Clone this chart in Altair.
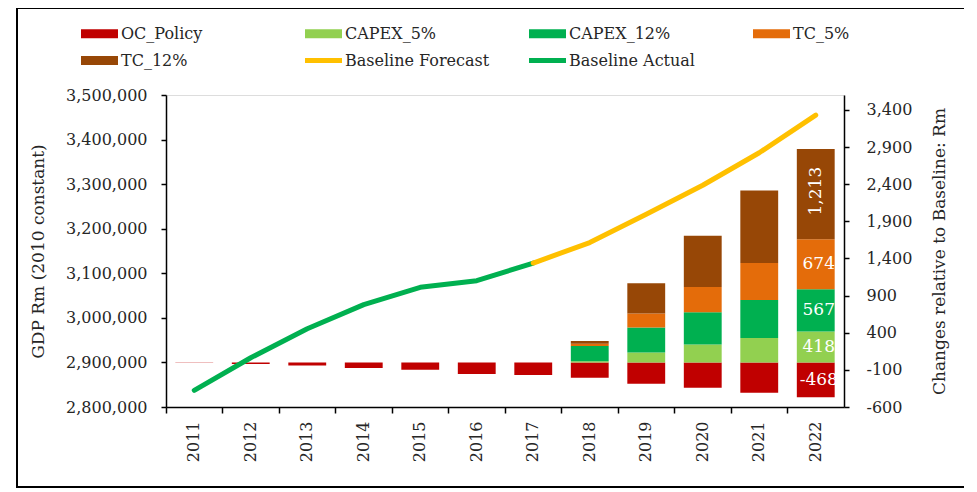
import altair as alt
import pandas as pd

years = [str(y) for y in range(2011, 2023)]

# Bars (right axis, change relative to baseline, Rm)
oc_policy = [-4, -22, -42, -74, -98, -155, -170, -207, -286, -340, -407, -468]
capex_5 = [0, 0, 0, 0, 0, 0, 0, 16, 134, 242, 329, 418]
capex_12 = [0, 0, 0, 0, 0, 0, 0, 206, 336, 434, 510, 567]
tc_5 = [0, 0, 0, 0, 0, 0, 0, 30, 188, 338, 501, 674]
tc_12 = [0, 0, 0, 0, 0, 0, 0, 38, 407, 691, 976, 1213]

# Lines (left axis, GDP Rm 2010 constant)
actual_years = ["2011", "2012", "2013", "2014", "2015", "2016", "2017"]
baseline_actual = [2837400, 2910500, 2975400, 3029700, 3068500, 3083400, 3123000]
forecast_years = ["2017", "2018", "2019", "2020", "2021", "2022"]
baseline_forecast = [3123000, 3169000, 3232600, 3297500, 3370400, 3454800]

series_names = ["OC_Policy", "CAPEX_5%", "CAPEX_12%", "TC_5%", "TC_12%",
                "Baseline Forecast", "Baseline Actual"]
series_colors = ["#C00000", "#92D050", "#00B050", "#E46C0A", "#974706",
                 "#FFC000", "#00B050"]

left_ticks = [2800000, 2900000, 3000000, 3100000, 3200000, 3300000, 3400000, 3500000]
right_ticks = [-600, -100, 400, 900, 1400, 1900, 2400, 2900, 3400]

FONT = "DejaVu Serif"
TXT = "#262626"

bar_series = [("OC_Policy", oc_policy, 0), ("CAPEX_5%", capex_5, 1),
              ("CAPEX_12%", capex_12, 2), ("TC_5%", tc_5, 3), ("TC_12%", tc_12, 4)]
rows = []
for name, vals, order in bar_series:
    for yr, v in zip(years, vals):
        if v != 0:
            rows.append({"year": yr, "series": name, "value": v, "order": order})
bars_df = pd.DataFrame(rows)

# data labels for the last year, at segment mid-points
last = len(years) - 1
lab_rows = [{"year": years[last], "mid": oc_policy[last] / 2,
             "text": f"{oc_policy[last]:,}", "angle": 0}]
cum = 0
for name, vals, order in bar_series[1:]:
    v = vals[last]
    lab_rows.append({"year": years[last], "mid": cum + v / 2, "text": f"{v:,}",
                     "angle": 270 if v >= 1000 else 0})
    cum += v
labels_df = pd.DataFrame(lab_rows)

line_df = pd.DataFrame(
    [{"year": y, "series": "Baseline Actual", "gdp": v} for y, v in zip(actual_years, baseline_actual)]
    + [{"year": y, "series": "Baseline Forecast", "gdp": v} for y, v in zip(forecast_years, baseline_forecast)]
)

shape_expr = ("(datum.value === 'Baseline Forecast' || datum.value === 'Baseline Actual') ? "
              "'M-1,-0.13H1V0.13H-1Z' : 'M-1,-0.24H1V0.24H-1Z'")
legend = alt.Legend(
    title=None, orient="none", legendX=-85, legendY=-80, direction="horizontal",
    columns=4, gridAlign="all", columnPadding=39, rowPadding=-1,
    symbolType={"expr": shape_expr}, symbolSize=1369, labelOffset=3,
    symbolStrokeWidth=0, symbolOpacity=1,
    labelFont=FONT, labelFontSize=16, labelColor=TXT, labelLimit=300,
)
color_scale = alt.Scale(domain=series_names, range=series_colors)

x_scale = alt.Scale(domain=years, paddingInner=0, paddingOuter=0)
x_axis = alt.Axis(title=None, bandPosition=0, labelAngle=270, tickSize=6,
                  labelPadding=8, labelFont=FONT, labelFontSize=16,
                  labelColor=TXT, domainColor="black", tickColor="black",
                  domainWidth=1.5, tickWidth=1.5)

right_scale = alt.Scale(domain=[-600, 3600], nice=False, zero=False)
right_axis = alt.Axis(orient="right", values=right_ticks, format=",.0f",
                      labelExpr="replace(datum.label, '\u2212', '-')",
                      title="Changes relative to Baseline: Rm", grid=False,
                      tickSize=5, labelPadding=17, titlePadding=37, titleAngle=270,
                      labelFont=FONT, labelFontSize=16, labelColor=TXT,
                      titleFont=FONT, titleFontSize=17, titleFontWeight="normal",
                      titleColor=TXT, domainColor="black", tickColor="black",
                      domainWidth=1.5, tickWidth=1.5, labelFlush=False)

bars = alt.Chart(bars_df).mark_bar(width=alt.RelativeBandSize(0.67)).encode(
    x=alt.X("year:N", scale=x_scale, axis=x_axis),
    y=alt.Y("value:Q", stack="zero", scale=right_scale, axis=right_axis),
    color=alt.Color("series:N", scale=color_scale, legend=legend),
    order=alt.Order("order:Q"),
)

texts = alt.Chart(labels_df).mark_text(font=FONT, fontSize=17, color="white", dx=3).encode(
    x=alt.X("year:N", scale=x_scale, axis=x_axis),
    y=alt.Y("mid:Q", scale=right_scale, axis=right_axis),
    text="text:N",
    angle=alt.Angle("angle:Q", scale=None),
)

lines = alt.Chart(line_df).mark_line(strokeWidth=5, strokeCap="round", strokeJoin="round").encode(
    x=alt.X("year:N", scale=x_scale, axis=x_axis),
    y=alt.Y("gdp:Q", scale=alt.Scale(domain=[2800000, 3500000], nice=False, zero=False),
            axis=alt.Axis(orient="left", values=left_ticks, format=",.0f",
                          title="GDP Rm (2010 constant)", grid=False,
                          tickSize=5, labelPadding=14, titlePadding=18,
                          labelFont=FONT, labelFontSize=16, labelColor=TXT,
                          titleFont=FONT, titleFontSize=17, titleFontWeight="normal",
                          titleColor=TXT, domainColor="black", tickColor="black",
                          domainWidth=1.5, tickWidth=1.5, labelFlush=False)),
    color=alt.Color("series:N", scale=color_scale, legend=None),
    detail="series:N",
)

frame = alt.Chart(pd.DataFrame({"k": [0]})).mark_rect(
    fillOpacity=0, stroke="black", strokeWidth=2
).encode(x=alt.value(-149), x2=alt.value(801), y=alt.value(-87), y2=alt.value(392))

right_layer = alt.layer(bars, texts)
chart = alt.layer(right_layer, lines, frame).resolve_scale(y="independent").properties(
    width=678, height=312,
    autosize=alt.AutoSizeParams(type="none"),
    padding={"left": 158, "top": 87, "right": 120, "bottom": 82},
).configure_view(stroke=None).configure(font=FONT)

chart.save("out.html", embed_options={"renderer": "svg", "actions": False})
